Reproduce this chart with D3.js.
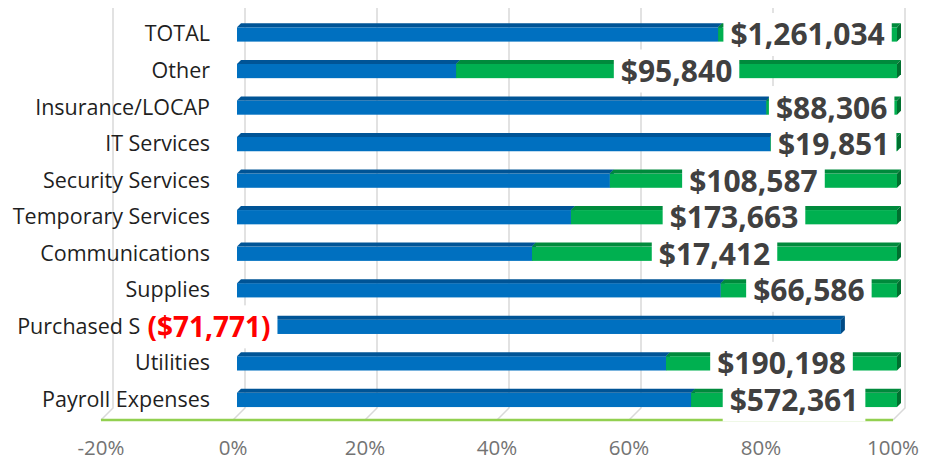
<!DOCTYPE html>
<html><head><meta charset="utf-8">
<script src="https://cdn.jsdelivr.net/npm/d3@7"></script>
<style>body{margin:0;background:#fff}svg{display:block}</style>
</head><body>
<script>
const categories = ["TOTAL","Other","Insurance/LOCAP","IT Services","Security Services","Temporary Services","Communications","Supplies","Purchased Services","Utilities","Payroll Expenses"];
const bluePct  = [72.9, 33.2, 80.2, 80.8, 56.5, 50.6, 44.7, 73.3, 91.5, 65.0, 68.8];
const greenPct = [27.1, 66.8, 19.8, 19.2, 43.5, 49.4, 55.3, 26.7, -8.5, 35.0, 31.2];
const valueLabels = ["$1,261,034","$95,840","$88,306","$19,851","$108,587","$173,663","$17,412","$66,586","($71,771)","$190,198","$572,361"];
const tickValues = [-20, 0, 20, 40, 60, 80, 100];

const W = 925, H = 465;
const svg = d3.select("body").append("svg").attr("width", W).attr("height", H);

const x = d3.scaleLinear().domain([0, 100]).range([237, 897]);
const y = d3.scaleBand().domain(categories).range([14.2, 416.2]).paddingInner(0.5).paddingOuter(0.25);
const depth = 4, backOff = 8, frontOff = -4;
const wallTop = 8, floorBack = 408, floorFront = 420;

// gridlines (back wall + floor diagonal)
const grid = svg.append("g");
tickValues.forEach(t => {
  const xb = x(t) + backOff, xf = x(t) + frontOff;
  grid.append("path")
    .attr("d", `M${xb},${wallTop}L${xb},${floorBack}L${xf},${floorFront}`)
    .attr("fill", "none").attr("stroke", "#d9d9d9").attr("stroke-width", 1.5);
});
// floor line
svg.append("line")
  .attr("x1", x(-20) + frontOff).attr("x2", x(100) + frontOff)
  .attr("y1", floorFront).attr("y2", floorFront)
  .attr("stroke", "#92d050").attr("stroke-width", 2.5);

// x axis tick labels
svg.append("g").selectAll("text").data(tickValues).join("text")
  .attr("x", d => x(d) + frontOff)
  .attr("y", 447)
  .attr("text-anchor", "middle").attr("dominant-baseline", "central")
  .attr("font-family", "Open Sans, sans-serif").attr("font-size", 20.5)
  .attr("fill", "#737373")
  .text(d => d + "%");

// category labels
svg.append("g").selectAll("text").data(categories).join("text")
  .attr("x", 210)
  .attr("y", d => y(d) + y.bandwidth() / 2 + 0.5)
  .attr("text-anchor", "end").attr("dominant-baseline", "central")
  .attr("font-family", "Open Sans, sans-serif").attr("font-size", 21.5)
  .attr("fill", "#1f1f1f")
  .text(d => d);

// bars
function drawBox(g, v0, v1, yTop, h, front, top, side) {
  const a = x(Math.min(v0, v1)), b = x(Math.max(v0, v1));
  g.append("rect").attr("x", a).attr("y", yTop + depth).attr("width", b - a).attr("height", h - depth).attr("fill", front);
  g.append("path").attr("d", `M${a},${yTop + depth}L${a + depth},${yTop}L${b + depth},${yTop}L${b},${yTop + depth}Z`).attr("fill", top);
  g.append("path").attr("d", `M${b},${yTop + depth}L${b + depth},${yTop}L${b + depth},${yTop + h - depth}L${b},${yTop + h}Z`).attr("fill", side);
}
const bars = svg.append("g");
categories.forEach((c, i) => {
  const g = bars.append("g");
  const yt = y(c), h = y.bandwidth();
  drawBox(g, 0, bluePct[i], yt, h, "#0070c0", "#005496", "#004a85");
  const g0 = greenPct[i] >= 0 ? bluePct[i] : 0;
  const g1 = greenPct[i] >= 0 ? bluePct[i] + greenPct[i] : greenPct[i];
  drawBox(g, g0, g1, yt, h, "#00b050", "#008a3c", "#00702f");
});

// data labels with white backgrounds, centred on the green segment
const labels = svg.append("g");
categories.forEach((c, i) => {
  const g0 = greenPct[i] >= 0 ? bluePct[i] : 0;
  const cx = x(g0 + greenPct[i] / 2);
  const cy = y(c) + y.bandwidth() / 2 + 1.5;
  const g = labels.append("g");
  const rect = g.append("rect").attr("fill", "#fff");
  const t = g.append("text")
    .attr("x", cx).attr("y", cy)
    .attr("text-anchor", "middle").attr("dominant-baseline", "central")
    .attr("font-family", "Open Sans, sans-serif").attr("font-weight", "bold")
    .attr("font-size", greenPct[i] < 0 ? 28 : 30)
    .attr("fill", greenPct[i] < 0 ? "#ff0000" : "#404040")
    .text(valueLabels[i]);
  const w = t.node().getComputedTextLength();
  rect.attr("x", cx - w / 2 - 7).attr("width", w + 14)
    .attr("y", cy - 21).attr("height", 43);
});
</script>
</body></html>
